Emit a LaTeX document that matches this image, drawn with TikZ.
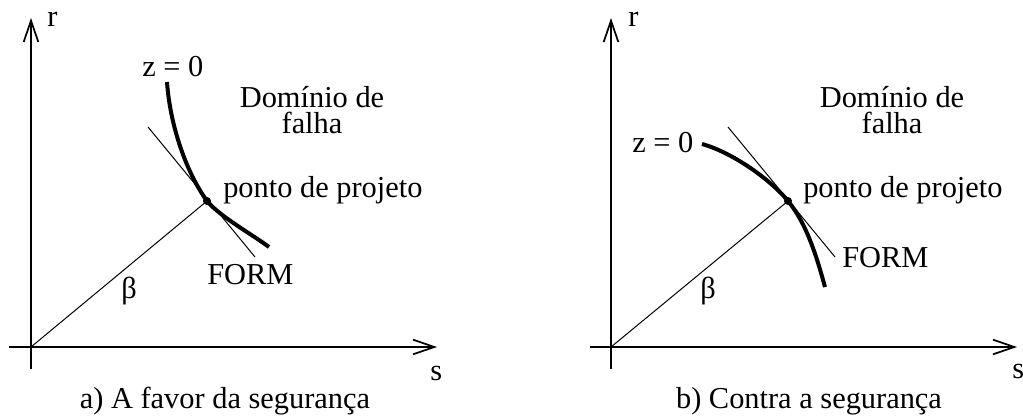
\documentclass[tikz,border=0pt]{standalone}
\usepackage{fontspec}
\setmainfont{Liberation Serif}
\usetikzlibrary{arrows.meta}
\begin{document}
\begin{tikzpicture}[x=0.75pt,y=-0.75pt,
  axis/.style={line width=1.5pt,-{Straight Barb[length=16pt,width=11pt,line width=1.3pt]}},
  thin/.style={line width=0.75pt},
  limit/.style={line width=3pt},
  lbl/.style={inner sep=0pt,anchor=base west,font=\fontsize{22.8}{27}\selectfont},
  lblc/.style={inner sep=0pt,anchor=base,font=\fontsize{22.8}{27}\selectfont},
  dom/.style={inner sep=0pt,anchor=center,align=center,font=\fontsize{22.8}{19.5}\selectfont},
  dot/.style={circle,fill=black,inner sep=0pt,minimum size=6pt}]
\useasboundingbox (0,0) rectangle (1023,416);
% ---------- panel a ----------
\coordinate (aO) at (31,347);
\coordinate (aYb) at (31,369);
\coordinate (aYt) at (31,18);
\coordinate (aXl) at (9,347);
\coordinate (aXr) at (437,347);
\coordinate (aC0) at (167,82);
\coordinate (aC2) at (269,247);
\coordinate (aT1) at (148,127);
\coordinate (aT2) at (255,257);
\node[dot] (aP) at (207,201) {};
\draw[axis] (aYb) -- (aYt);
\draw[axis] (aXl) -- (aXr);
\draw[thin] (aO) -- (aP.center);
\draw[thin] (aT1) -- (aT2);
\draw[limit] (aC0) .. controls (170,125) and (186,172) .. (aP.center)
  .. controls (219.7,216.4) and (253,235) .. (aC2);
\node[lbl] (ar) at (47,27) {r};
\node[lbl] (az) at (142,77) {z = 0};
\node[dom] (ad) at (312,109.6) {Domínio de\\falha};
\node[lbl] (app) at (223,198) {ponto de projeto};
\node[lbl] (af) at (207,285) {FORM};
\node[lbl] (ab) at (121,299) {β};
\node[lbl] (as) at (430,380) {s};
\node[lblc] (acap) at (225,408) {a) A favor da segurança};
% ---------- panel b ----------
\coordinate (bO) at (611,347);
\coordinate (bYb) at (611,369);
\coordinate (bYt) at (611,18);
\coordinate (bXl) at (590,347);
\coordinate (bXr) at (1017,347);
\coordinate (bC0) at (702,144);
\coordinate (bC2) at (825,287);
\coordinate (bT1) at (728,127);
\coordinate (bT2) at (835,257);
\node[dot] (bP) at (788,201) {};
\draw[axis] (bYb) -- (bYt);
\draw[axis] (bXl) -- (bXr);
\draw[thin] (bO) -- (bP.center);
\draw[thin] (bT1) -- (bT2);
\draw[limit] (bC0) .. controls (731,152) and (769,178) .. (bP.center)
  .. controls (807,224) and (817,258) .. (bC2);
\node[lbl] (br) at (628,27) {r};
\node[lbl] (bz) at (632,153) {z = 0};
\node[dom] (bd) at (892,109.6) {Domínio de\\falha};
\node[lbl] (bpp) at (803,198) {ponto de projeto};
\node[lbl] (bf) at (842,268) {FORM};
\node[lbl] (bb) at (700,299) {β};
\node[lbl] (bs) at (1012,378) {s};
\node[lblc] (bcap) at (809,408) {b) Contra a segurança};
\end{tikzpicture}
\end{document}
